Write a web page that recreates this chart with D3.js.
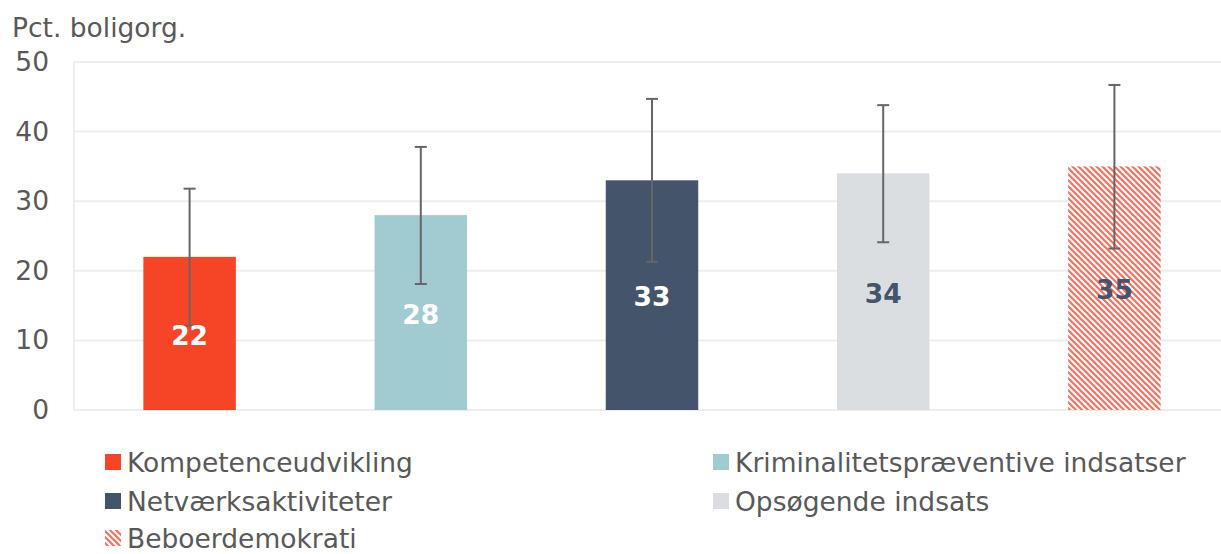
<!DOCTYPE html>
<html>
<head>
<meta charset="utf-8">
<script src="https://cdn.jsdelivr.net/npm/d3@7"></script>
<style>
  body { margin: 0; background: #fff; }
  text { font-family: "DejaVu Sans", Verdana, sans-serif; }
</style>
</head>
<body>
<div id="chart"></div>
<script>
// chart data
var categories = ["Kompetenceudvikling", "Kriminalitetspræventive indsatser", "Netværksaktiviteter", "Opsøgende indsats", "Beboerdemokrati"];
var values = [22, 28, 33, 34, 35];
var errLow = [12.1, 18.1, 21.3, 24.1, 23.2];
var errHigh = [31.8, 37.8, 44.7, 43.8, 46.7];
var yTicks = [0, 10, 20, 30, 40, 50];
var colors = ["#F64427", "#A0CBD0", "#44546A", "#DADEE1", "url(#stripes)"];
var labelColors = ["#fff", "#fff", "#fff", "#44546A", "#44546A"];

var svgWidth = 1221;
var svgHeight = 554;
var margin = { top: 62, left: 74, bottom: 144, right: -9 };
var fontSize = 26.5;

var svg = d3.select("#chart").append("svg")
  .attr("width", svgWidth)
  .attr("height", svgHeight);

// hatched pattern for last bar
var defs = svg.append("defs");
var pat = defs.append("pattern")
  .attr("id", "stripes")
  .attr("patternUnits", "userSpaceOnUse")
  .attr("width", 6)
  .attr("height", 6);
pat.append("rect").attr("width", 6).attr("height", 6).attr("fill", "#fff");
pat.append("path")
  .attr("d", "M-1,-1L7,7M-1,5L1,7M5,-1L7,1")
  .attr("stroke", "#F7705C")
  .attr("stroke-width", 2.2);

var x = d3.scaleBand()
  .domain(categories)
  .range([margin.left, svgWidth - margin.right])
  .paddingInner(0.6)
  .paddingOuter(0.3);

var y = d3.scaleLinear()
  .domain([0, 50])
  .range([svgHeight - margin.bottom, margin.top]);

// gridlines
svg.append("g")
  .selectAll("line")
  .data(yTicks)
  .enter()
  .append("line")
  .attr("x1", margin.left)
  .attr("x2", svgWidth)
  .attr("y1", (d) => y(d))
  .attr("y2", (d) => y(d))
  .attr("stroke", "#EEEEEE")
  .attr("stroke-width", 2);

svg.append("line")
  .attr("x1", margin.left).attr("x2", margin.left)
  .attr("y1", y(50)).attr("y2", y(0))
  .attr("stroke", "#EEEEEE").attr("stroke-width", 2);

// y axis labels
var yAxis = d3.axisLeft(y).tickValues(yTicks).tickSize(0).tickPadding(25);
var yg = svg.append("g")
  .attr("transform", `translate(${margin.left}, 0)`)
  .call(yAxis);
yg.select(".domain").remove();
yg.selectAll("text")
  .attr("font-size", fontSize)
  .attr("fill", "#595959")
  .style("font-family", '"DejaVu Sans", Verdana, sans-serif');

svg.append("text")
  .attr("x", 12)
  .attr("y", 37)
  .attr("font-size", fontSize)
  .attr("fill", "#595959")
  .text("Pct. boligorg.");

// bars
svg.append("g")
  .selectAll("rect")
  .data(categories)
  .enter()
  .append("rect")
  .attr("x", (d) => x(d))
  .attr("width", x.bandwidth())
  .attr("y", (d, i) => y(values[i]))
  .attr("height", (d, i) => y(0) - y(values[i]))
  .attr("fill", (d, i) => colors[i]);

// error bars
var eb = svg.append("g").attr("stroke", "#666666").attr("stroke-width", 2);
categories.forEach(function (c, i) {
  var cx = x(c) + x.bandwidth() / 2;
  eb.append("line").attr("x1", cx).attr("x2", cx)
    .attr("y1", y(errHigh[i])).attr("y2", y(errLow[i]));
  eb.append("line").attr("x1", cx - 6).attr("x2", cx + 6)
    .attr("y1", y(errHigh[i])).attr("y2", y(errHigh[i]));
  eb.append("line").attr("x1", cx - 6).attr("x2", cx + 6)
    .attr("y1", y(errLow[i])).attr("y2", y(errLow[i]));
});

// value labels
svg.append("g")
  .selectAll("text")
  .data(categories)
  .enter()
  .append("text")
  .attr("x", (d) => x(d) + x.bandwidth() / 2)
  .attr("y", (d, i) => (y(values[i]) + y(0)) / 2)
  .attr("dy", "0.42em")
  .attr("text-anchor", "middle")
  .attr("font-size", fontSize)
  .attr("font-weight", "bold")
  .attr("fill", (d, i) => labelColors[i])
  .text((d, i) => values[i]);

// legend
var legendPos = [[105, 462], [713, 462], [105, 501], [713, 501], [105, 538]];
var legend = svg.append("g");
categories.forEach(function (c, i) {
  var p = legendPos[i];
  legend.append("rect")
    .attr("x", p[0]).attr("y", p[1] - 8)
    .attr("width", 16).attr("height", 16)
    .attr("fill", colors[i]);
  legend.append("text")
    .attr("x", p[0] + 22).attr("y", p[1])
    .attr("dy", "0.36em")
    .attr("font-size", fontSize)
    .attr("fill", "#595959")
    .text(c);
});
</script>
</body>
</html>
